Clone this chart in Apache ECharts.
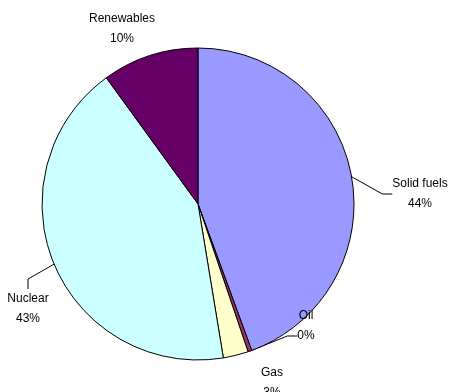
<!DOCTYPE html>
<html>
<head>
<meta charset="utf-8">
<script src="https://cdn.jsdelivr.net/npm/echarts@6/dist/echarts.min.js"></script>
<style>html,body{margin:0;padding:0;background:#fff}#c{width:454px;height:392px}</style>
</head>
<body>
<div id="c"></div>
<script>
const categories = ['Solid fuels', 'Oil', 'Gas', 'Nuclear', 'Renewables'];
const values = [44.4, 0.4, 2.6, 42.6, 10.0];
const colors = ['#9999FF', '#993366', '#FFFFCC', '#CCFFFF', '#660066'];
const labelPos = [[420, 194], [306, 336], [272, 383], [28, 309], [122, 29]];
const labelTail = ['', '\n ', '', '', ''];
const showLine = [true, true, false, true, false];

const chart = echarts.init(document.getElementById('c'), null, {renderer: 'canvas'});
chart.setOption({
  backgroundColor: '#fff',
  animation: false,
  series: [{
    type: 'pie',
    center: [198, 204],
    radius: 156,
    startAngle: 90,
    clockwise: true,
    avoidLabelOverlap: false,
    data: categories.map((n, i) => ({
      name: n, value: values[i],
      itemStyle: {color: colors[i]},
      labelLine: {show: showLine[i]}
    })),
    itemStyle: {borderColor: '#000', borderWidth: 1},
    label: {
      show: true,
      formatter: p => p.name + '\n' + Math.round(p.value) + '%' + labelTail[p.dataIndex],
      fontFamily: 'Liberation Sans, Arial, sans-serif',
      fontSize: 12,
      color: '#000',
      lineHeight: 20,
      align: 'center'
    },
    labelLine: {lineStyle: {color: '#000', width: 1}, length: 12, length2: 10},
    labelLayout: p => ({
      x: labelPos[p.dataIndex][0],
      y: labelPos[p.dataIndex][1],
      align: 'center',
      verticalAlign: 'middle'
    }),
    emphasis: {disabled: true}
  }]
});
</script>
</body>
</html>
